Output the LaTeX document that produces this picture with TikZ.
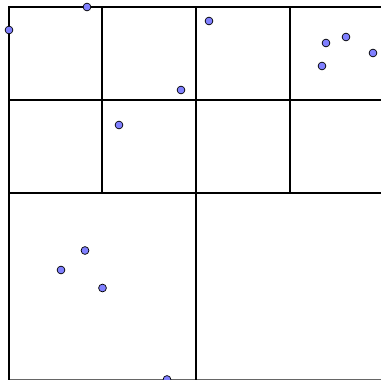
\documentclass[tikz,border=0pt]{standalone}
\definecolor{dotblue}{RGB}{128,128,255}
\tikzset{
  gridline/.style={line width=2.3pt, black, line cap=rect},
  pt/.style={circle, draw=black, line width=0.7pt, fill=dotblue, inner sep=0pt, minimum size=7.8pt}
}
\begin{document}
\begin{tikzpicture}[x=1pt,y=-1pt]
\useasboundingbox (0,0) rectangle (381,380);
\clip (0,0) rectangle (381,380);
% quadtree grid
\draw[gridline] (9,7) -- (390,7);
\draw[gridline] (9,100) -- (390,100);
\draw[gridline] (9,193) -- (390,193);
\draw[gridline, black!60] (9,380.2) -- (390,380.2);
\draw[gridline] (9,7) -- (9,390);
\draw[gridline] (102,7) -- (102,193);
\draw[gridline] (196,7) -- (196,390);
\draw[gridline] (290,7) -- (290,193);
% points
\node[pt] (p1) at (9,30) {};
\node[pt] (p2) at (87,7) {};
\node[pt] (p3) at (209,21) {};
\node[pt] (p4) at (326,43) {};
\node[pt] (p5) at (346,37) {};
\node[pt] (p6) at (373,53) {};
\node[pt] (p7) at (322,66) {};
\node[pt] (p8) at (181,90) {};
\node[pt] (p9) at (119,125) {};
\node[pt] (p10) at (85,250.5) {};
\node[pt] (p11) at (61,270) {};
\node[pt] (p12) at (102.5,288) {};
\node[pt] (p13) at (167,379.5) {};
\end{tikzpicture}
\end{document}
